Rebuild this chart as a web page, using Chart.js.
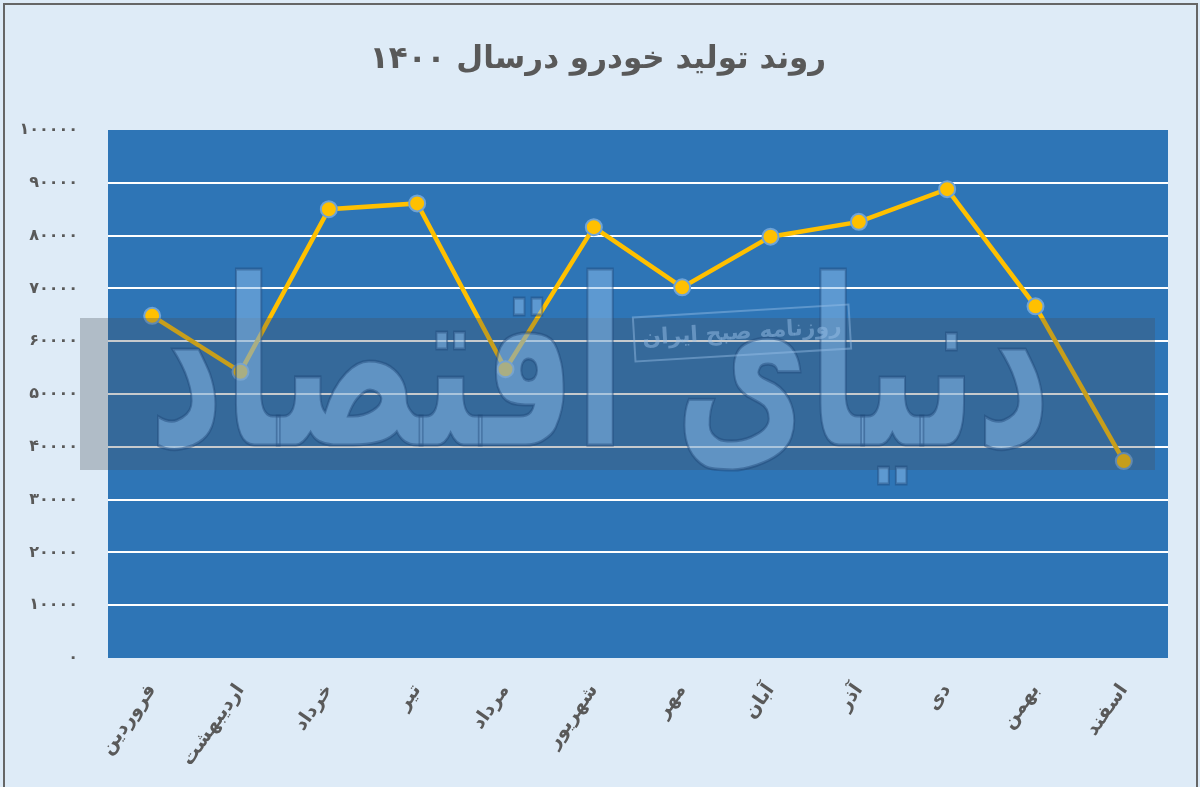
<!DOCTYPE html>
<html><head><meta charset="utf-8">
<script src="https://cdn.jsdelivr.net/npm/chart.js@4"></script>
<style>html,body{margin:0;padding:0;background:#deebf7;}canvas{display:block}</style>
</head><body>
<canvas id="c" width="1200" height="787"></canvas>
<script>
/* ── data ── */
const months=['فروردین','اردیبهشت','خرداد','تیر','مرداد','شهریور','مهر','آبان','آذر','دی','بهمن','اسفند'];
const production=[64800,54200,85000,86100,54700,81600,70200,79800,82600,88800,66600,37300];
const titleText='روند تولید خودرو درسال ۱۴۰۰';
const watermark='دنیای اقتصاد';
const stampText='روزنامه صبح ایران';

const ink='#595959', font="'DejaVu Sans',sans-serif";
const fa=n=>String(n).replace(/\d/g,d=>'۰۱۲۳۴۵۶۷۸۹'[d]);

// page bg, frame, title, plot fill
const backdrop={id:'backdrop',
  beforeDraw(ch){
    const c=ch.ctx,a=ch.chartArea;
    c.save();
    c.fillStyle='#deebf7';c.fillRect(0,0,ch.width,ch.height);
    c.strokeStyle='#666';c.lineWidth=2;c.strokeRect(4,4,ch.width-7,ch.height+20);
    c.fillStyle=ink;c.font="bold 31px "+font;c.textAlign='center';c.textBaseline='middle';
    c.direction='rtl';c.fillText(titleText,598,60);
    c.fillStyle='#2e75b6';c.fillRect(a.left,a.top,a.right-a.left,a.bottom-a.top);
    c.restore();
  },
  afterDatasetsDraw(ch){
    const c=ch.ctx;
    c.save();
    // grey band
    c.fillStyle='rgba(70,80,90,0.3)';c.fillRect(80,318,1075,152);
    // logo watermark, stretched tall like the original mark
    c.save();
    c.direction='rtl';c.textAlign='center';c.textBaseline='middle';
    c.translate(600,385);c.scale(1,1.6);
    c.font="bold 145px "+font;
    c.fillStyle='rgba(140,190,235,0.5)';c.strokeStyle='rgba(30,70,120,0.45)';c.lineWidth=2;
    c.fillText(watermark,0,0);c.strokeText(watermark,0,0);
    c.restore();
    // stamp
    c.direction='rtl';c.textAlign='center';c.textBaseline='middle';
    c.translate(742,333);c.rotate(-0.06);
    c.strokeStyle='rgba(150,190,230,0.45)';c.lineWidth=2;c.strokeRect(-108,-22,216,44);
    c.fillStyle='rgba(150,190,230,0.5)';c.font="bold 22px "+font;c.fillText(stampText,0,0);
    c.restore();
  }};

new Chart(document.getElementById('c'),{
  type:'line',
  data:{labels:months,datasets:[{data:production,borderColor:'#ffc000',borderWidth:4.5,tension:0,
    pointRadius:8,pointHoverRadius:8,pointBackgroundColor:'#ffc000',pointBorderColor:'#6fa3d6',pointBorderWidth:2}]},
  options:{responsive:false,animation:false,devicePixelRatio:1,
    layout:{padding:{top:130,right:32,left:0,bottom:0}},
    plugins:{legend:{display:false},tooltip:{enabled:false}},
    scales:{
      x:{offset:true,grid:{display:false,drawTicks:false},border:{display:false},
        afterFit:s=>{s.height=129;},
        ticks:{color:ink,font:{family:font,size:19,weight:'bold'},minRotation:55,maxRotation:55,padding:22,autoSkip:false}},
      y:{min:0,max:100000,border:{display:false},
        afterFit:s=>{s.width=108;},
        grid:{drawTicks:false,lineWidth:2,color:c=>(c.tick&&(c.tick.value===0||c.tick.value===100000))?'rgba(0,0,0,0)':'#ffffff'},
        ticks:{stepSize:10000,color:ink,padding:30,font:{family:font,size:16,weight:'bold'},callback:v=>fa(v)}}
    }},
  plugins:[backdrop]
});
</script>
</body></html>
